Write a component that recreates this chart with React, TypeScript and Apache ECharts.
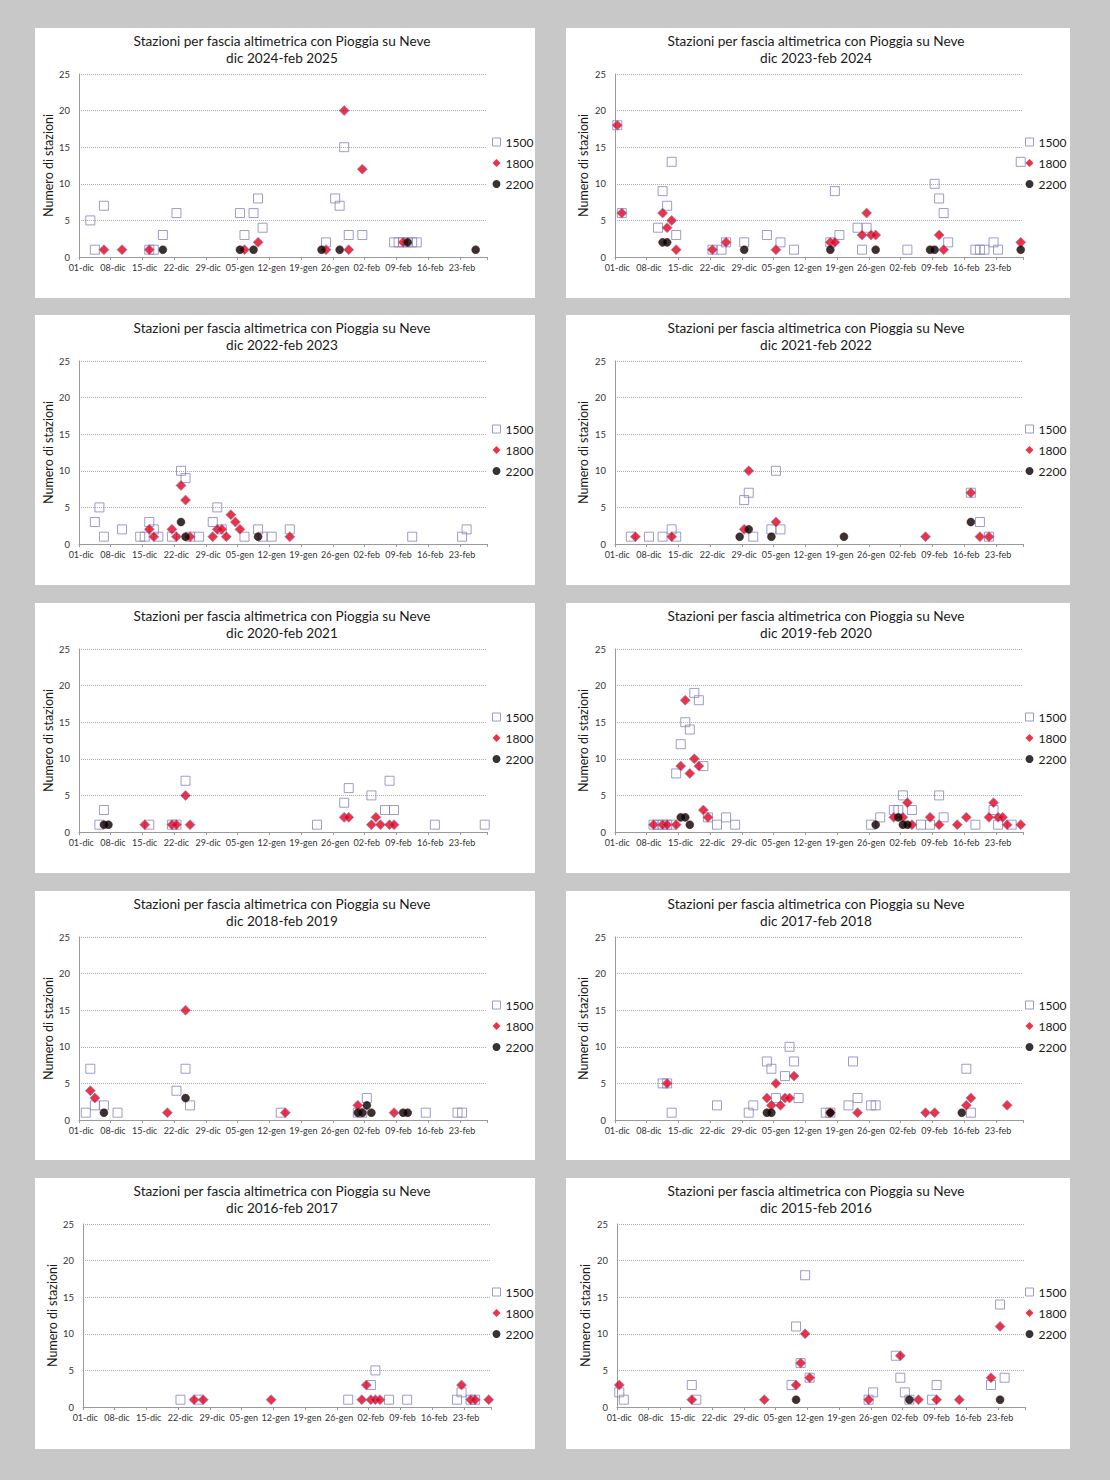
import React, { useEffect, useRef } from "react";
import * as echarts from "echarts";

// ---- x categories: one per day, 01-dic .. 28-feb ----
const MONTHS = ["dic", "gen", "feb"];
const MONTH_DAYS = [31, 31, 28];
const X_CATEGORIES: string[] = [];
MONTHS.forEach((m, i) => {
  for (let d = 1; d <= MONTH_DAYS[i]; d++) X_CATEGORIES.push(String(d).padStart(2, "0") + "-" + m);
});

const Y_MIN = 0;
const Y_MAX = 25;
const Y_STEP = 5;

const TITLE = "Stazioni per fascia altimetrica con Pioggia su Neve";
const Y_NAME = "Numero di stazioni";
const SERIES_NAMES = ["1500", "1800", "2200"];

const SEASONS = [
  "dic 2024-feb 2025",
  "dic 2023-feb 2024",
  "dic 2022-feb 2023",
  "dic 2021-feb 2022",
  "dic 2020-feb 2021",
  "dic 2019-feb 2020",
  "dic 2018-feb 2019",
  "dic 2017-feb 2018",
  "dic 2016-feb 2017",
  "dic 2015-feb 2016",
];

// data: [day index from 01-dic (0-based), number of stations]
const S2425_1500 = [[2,5],[3,1],[5,7],[15,1],[16,1],[18,3],[21,6],[35,6],[36,3],[38,6],[39,8],[40,4],[54,2],[56,8],[57,7],[58,15],[59,3],[62,3],[69,2],[70,2],[71,2],[72,2],[73,2],[74,2]];
const S2425_1800 = [[5,1],[9,1],[15,1],[36,1],[39,2],[54,1],[58,20],[59,1],[62,12],[71,2]];
const S2425_2200 = [[18,1],[35,1],[38,1],[53,1],[57,1],[72,2],[87,1]];

const S2324_1500 = [[0,18],[1,6],[9,4],[10,9],[11,7],[12,13],[13,3],[21,1],[23,1],[24,2],[28,2],[33,3],[36,2],[39,1],[47,2],[48,9],[49,3],[53,4],[54,1],[55,4],[64,1],[70,10],[71,8],[72,6],[73,2],[79,1],[80,1],[81,1],[83,2],[84,1],[89,13]];
const S2324_1800 = [[0,18],[1,6],[10,6],[11,4],[12,5],[13,1],[21,1],[24,2],[35,1],[47,2],[48,2],[54,3],[55,6],[56,3],[57,3],[71,3],[72,1],[89,2]];
const S2324_2200 = [[10,2],[11,2],[28,1],[47,1],[57,1],[69,1],[70,1],[89,1]];

const S2223_1500 = [[3,3],[4,5],[5,1],[9,2],[13,1],[14,1],[15,3],[16,2],[17,1],[20,1],[22,10],[23,9],[24,1],[26,1],[29,3],[30,5],[31,2],[36,1],[39,2],[40,1],[42,1],[46,2],[73,1],[84,1],[85,2]];
const S2223_1800 = [[15,2],[16,1],[20,2],[21,1],[22,8],[23,6],[24,1],[29,1],[30,2],[31,2],[32,1],[33,4],[34,3],[35,2],[46,1]];
const S2223_2200 = [[22,3],[23,1],[39,1]];

const S2122_1500 = [[3,1],[7,1],[10,1],[12,2],[13,1],[28,6],[29,7],[30,1],[34,2],[35,10],[36,2],[78,7],[80,3],[82,1]];
const S2122_1800 = [[4,1],[12,1],[28,2],[29,10],[35,3],[68,1],[78,7],[80,1],[82,1]];
const S2122_2200 = [[27,1],[29,2],[34,1],[50,1],[78,3]];

const S2021_1500 = [[4,1],[5,3],[15,1],[20,1],[21,1],[23,7],[52,1],[58,4],[59,6],[64,5],[67,3],[68,7],[69,3],[78,1],[89,1]];
const S2021_1800 = [[14,1],[20,1],[21,1],[23,5],[24,1],[58,2],[59,2],[64,1],[65,2],[66,1],[68,1],[69,1]];
const S2021_2200 = [[5,1],[6,1]];

const S1920_1500 = [[8,1],[9,1],[10,1],[11,1],[12,1],[13,8],[14,12],[15,15],[16,14],[17,19],[18,18],[19,9],[20,2],[22,1],[24,2],[26,1],[56,1],[58,2],[61,3],[62,3],[63,5],[65,3],[67,1],[69,1],[71,5],[72,2],[79,1],[83,3],[84,1],[87,1]];
const S1920_1800 = [[8,1],[10,1],[11,1],[13,1],[14,9],[15,18],[16,8],[17,10],[18,9],[19,3],[20,2],[61,2],[63,2],[64,4],[65,1],[69,2],[71,1],[75,1],[77,2],[82,2],[83,4],[84,2],[85,2],[86,1],[89,1]];
const S1920_2200 = [[14,2],[15,2],[16,1],[57,1],[62,2],[63,1],[64,1]];

const S1819_1500 = [[1,1],[2,7],[3,2],[5,2],[8,1],[21,4],[23,7],[24,2],[44,1],[61,1],[62,1],[63,3],[76,1],[83,1],[84,1]];
const S1819_1800 = [[2,4],[3,3],[19,1],[23,15],[45,1],[61,2],[69,1]];
const S1819_2200 = [[5,1],[23,3],[61,1],[62,1],[63,2],[64,1],[71,1],[72,1]];

const S1718_1500 = [[10,5],[11,5],[12,1],[22,2],[29,1],[30,2],[33,8],[34,7],[35,3],[37,6],[38,10],[39,8],[40,3],[46,1],[47,1],[51,2],[52,8],[53,3],[56,2],[57,2],[77,7],[78,1]];
const S1718_1800 = [[11,5],[33,3],[34,2],[35,5],[36,2],[37,3],[38,3],[39,6],[47,1],[53,1],[68,1],[70,1],[77,2],[78,3],[86,2]];
const S1718_2200 = [[33,1],[34,1],[47,1],[76,1]];

const S1617_1500 = [[21,1],[25,1],[58,1],[63,3],[64,5],[67,1],[71,1],[82,1],[83,2],[85,1],[86,1]];
const S1617_1800 = [[24,1],[26,1],[41,1],[61,1],[62,3],[63,1],[64,1],[65,1],[83,3],[85,1],[86,1],[89,1]];
const S1617_2200: number[][] = [];

const S1516_1500 = [[0,2],[1,1],[16,3],[17,1],[38,3],[39,11],[40,6],[41,18],[42,4],[55,1],[56,2],[61,7],[62,4],[63,2],[64,1],[69,1],[70,3],[82,3],[84,14],[85,4]];
const S1516_1800 = [[0,3],[16,1],[32,1],[39,3],[40,6],[41,10],[42,4],[55,1],[62,7],[66,1],[70,1],[75,1],[82,4],[84,11]];
const S1516_2200 = [[39,1],[64,1],[84,1]];

const PANEL_DATA = [
  [S2425_1500, S2425_1800, S2425_2200],
  [S2324_1500, S2324_1800, S2324_2200],
  [S2223_1500, S2223_1800, S2223_2200],
  [S2122_1500, S2122_1800, S2122_2200],
  [S2021_1500, S2021_1800, S2021_2200],
  [S1920_1500, S1920_1800, S1920_2200],
  [S1819_1500, S1819_1800, S1819_2200],
  [S1718_1500, S1718_1800, S1718_2200],
  [S1617_1500, S1617_1800, S1617_2200],
  [S1516_1500, S1516_1800, S1516_2200],
];

// ---- layout ----
const PAGE_W = 1110;
const PAGE_H = 1480;
const ROW_TOPS = [28, 315, 603, 891, 1178];
const ROW_H = [270, 270, 270, 269, 271];
const COL_X = [35, 566];
const COL_W = [500, 504];
const FONT = "Lato, 'Liberation Sans', Arial, sans-serif";

const SQUARE_EDGE = "#8682be";
const DIAMOND_FILL = "#e3001b";
const DIAMOND_EDGE = "#8a86bb";
const CIRCLE_FILL = "#050000";
const CIRCLE_EDGE = "#5a0a0a";

export default function App() {
  const ref = useRef<HTMLDivElement>(null);

  useEffect(() => {
    if (!ref.current) return;
    const chart = echarts.init(ref.current, undefined, { renderer: "svg" });

    const grids: any[] = [];
    const xAxes: any[] = [];
    const yAxes: any[] = [];
    const series: any[] = [];
    const legends: any[] = [];
    const graphics: any[] = [];

    PANEL_DATA.forEach((sets, i) => {
      const row = Math.floor(i / 2);
      const col = i % 2;
      const x0 = COL_X[col];
      const y0 = ROW_TOPS[row];
      const w = COL_W[col];
      const last = row === 4;
      const gridLeft = col === 0 ? (last ? 83 : 79) : (last ? 617 : 615);

      graphics.push({
        type: "rect",
        z: -10,
        shape: { x: x0, y: y0, width: w, height: ROW_H[row] },
        style: { fill: "#ffffff" },
        silent: true,
      });
      const cx = col === 0 ? x0 + 247 : x0 + 250;
      graphics.push({
        type: "text",
        z: 10,
        x: cx,
        y: y0 + 13,
        style: { text: TITLE, font: `13.6px ${FONT}`, fill: "#1a1a1a", align: "center", verticalAlign: "middle" },
      });
      graphics.push({
        type: "text",
        z: 10,
        x: cx,
        y: y0 + 29.5,
        style: { text: SEASONS[i], font: `13.6px ${FONT}`, fill: "#1a1a1a", align: "center", verticalAlign: "middle" },
      });

      grids.push({ left: gridLeft, top: y0 + 46, width: 408, height: 183, containLabel: false });
      xAxes.push({
        gridIndex: i,
        type: "category",
        data: X_CATEGORIES,
        boundaryGap: true,
        axisLine: { show: true, lineStyle: { color: "#9a9a9a", width: 1 } },
        axisTick: { show: true, interval: 6, length: 3, lineStyle: { color: "#9a9a9a" } },
        axisLabel: { interval: 6, fontSize: 9, color: "#333333", margin: 6, fontFamily: FONT },
        splitLine: { show: false },
      });
      yAxes.push({
        gridIndex: i,
        type: "value",
        min: Y_MIN,
        max: Y_MAX,
        interval: Y_STEP,
        axisLine: { show: true, lineStyle: { color: "#9a9a9a", width: 1 } },
        axisTick: { show: false },
        axisLabel: { fontSize: 9.4, color: "#333333", margin: 9, fontFamily: FONT },
        splitLine: { show: true, lineStyle: { color: "#a8a8a8", type: "dotted", width: 1 } },
        name: Y_NAME,
        nameLocation: "middle",
        nameGap: col === 0 ? 22 : 25,
        nameRotate: 90,
        nameTextStyle: { fontSize: 12.5, color: "#1a1a1a", fontFamily: FONT },
      });

      series.push({
        type: "scatter",
        name: SERIES_NAMES[0],
        xAxisIndex: i,
        yAxisIndex: i,
        data: sets[0],
        symbol: "rect",
        symbolSize: 9,
        itemStyle: { color: "rgba(255,255,255,0)", borderColor: SQUARE_EDGE, borderWidth: 1 },
        emphasis: { disabled: true },
      });
      series.push({
        type: "scatter",
        name: SERIES_NAMES[1],
        xAxisIndex: i,
        yAxisIndex: i,
        data: sets[1],
        symbol: "diamond",
        symbolSize: 10,
        itemStyle: { color: DIAMOND_FILL, borderColor: DIAMOND_EDGE, borderWidth: 0.8 },
        emphasis: { disabled: true },
      });
      series.push({
        type: "scatter",
        name: SERIES_NAMES[2],
        xAxisIndex: i,
        yAxisIndex: i,
        data: sets[2],
        symbol: "circle",
        symbolSize: 8,
        itemStyle: { color: CIRCLE_FILL, borderColor: CIRCLE_EDGE, borderWidth: 0.6 },
        emphasis: { disabled: true },
      });

      legends.push({
        data: [
          { name: SERIES_NAMES[0], icon: "rect", itemStyle: { color: "rgba(255,255,255,0)", borderColor: SQUARE_EDGE, borderWidth: 1 } },
          { name: SERIES_NAMES[1], icon: "diamond", itemStyle: { color: DIAMOND_FILL, borderWidth: 0 } },
          { name: SERIES_NAMES[2], icon: "circle", itemStyle: { color: CIRCLE_FILL, borderWidth: 0 } },
        ],
        orient: "vertical",
        left: col === 0 ? x0 + 457 : x0 + 459,
        top: y0 + 108,
        padding: 0,
        itemGap: 9,
        itemWidth: 8,
        itemHeight: 8,
        selectedMode: false,
        textStyle: { fontSize: 12, lineHeight: 12, color: "#1a1a1a", fontFamily: FONT },
      });
    });

    chart.setOption({
      animation: false,
      backgroundColor: "#c8c8c8",
      textStyle: { fontFamily: FONT },
      grid: grids,
      xAxis: xAxes,
      yAxis: yAxes,
      series,
      legend: legends,
      graphic: { elements: graphics },
    });

    return () => chart.dispose();
  }, []);

  return (
    <div
      ref={ref}
      style={{ position: "absolute", left: 0, top: 0, width: PAGE_W, height: PAGE_H }}
    />
  );
}
